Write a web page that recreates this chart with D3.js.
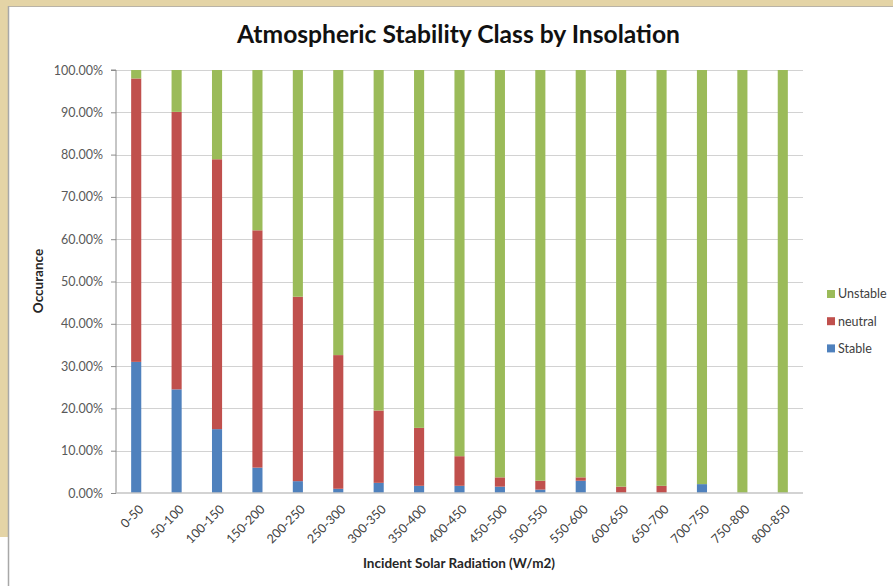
<!DOCTYPE html>
<html>
<head>
<meta charset="utf-8">
<script src="https://cdn.jsdelivr.net/npm/d3@7/dist/d3.min.js"></script>
<style>
  html, body { margin: 0; padding: 0; background: #ffffff; }
  svg { display: block; }
</style>
</head>
<body>
<script>
// Insolation bins (W/m2)
const categories = ["0-50","50-100","100-150","150-200","200-250","250-300","300-350","350-400",
  "400-450","450-500","500-550","550-600","600-650","650-700","700-750","750-800","800-850"];
// Share of hours in each stability class, percent
const stable   = [31.0, 24.5, 15.1, 6.0, 2.8, 1.0, 2.4, 1.7, 1.7, 1.5, 0.8, 2.9, 0, 0, 2.1, 0, 0];
const neutral  = [67.0, 65.6, 63.8, 56.1, 43.6, 31.6, 17.1, 13.7, 7.0, 2.2, 2.1, 0.8, 1.5, 1.7, 0, 0, 0];
const unstable = [2.0, 9.9, 21.1, 37.9, 53.6, 67.4, 80.5, 84.6, 91.3, 96.3, 97.1, 96.3, 98.5, 98.3, 97.9, 100, 100];
const seriesNames = ["Stable", "neutral", "Unstable"];
const yTicks = [0, 10, 20, 30, 40, 50, 60, 70, 80, 90, 100];

const W = 893, H = 586;
const colors = { Stable: "#4f81bd", neutral: "#c0504d", Unstable: "#9bbb59" };
const font = "Lato, 'Open Sans', sans-serif";

const svg = d3.select("body").append("svg").attr("width", W).attr("height", H);

// Page frame: tan strip along the top and left
svg.append("rect").attr("x", 0).attr("y", 0).attr("width", W).attr("height", H).attr("fill", "#ffffff");
svg.append("rect").attr("x", 0).attr("y", 0).attr("width", W).attr("height", 6).attr("fill", "#e4d4a6");
svg.append("rect").attr("x", 0).attr("y", 0).attr("width", 8).attr("height", 537).attr("fill", "#e4d4a6");
svg.append("line").attr("x1", 8).attr("x2", W).attr("y1", 6.5).attr("y2", 6.5).attr("stroke", "#b9b3a6").attr("stroke-width", 1);
svg.append("line").attr("x1", 8.5).attr("x2", 8.5).attr("y1", 6).attr("y2", H).attr("stroke", "#a8a8a8").attr("stroke-width", 1.5);

const plot = { left: 116, right: 803, top: 70, bottom: 493 };

const x = d3.scaleBand().domain(categories).range([plot.left, plot.right]).paddingInner(0.75).paddingOuter(0.375);
const y = d3.scaleLinear().domain([0, 100]).range([plot.bottom, plot.top]);

// Gridlines
svg.append("g").selectAll("line").data(yTicks.filter(t => t > 0)).join("line")
  .attr("x1", plot.left).attr("x2", plot.right)
  .attr("y1", d => Math.round(y(d)) + 0.5).attr("y2", d => Math.round(y(d)) + 0.5)
  .attr("stroke", "#d2d2d2").attr("stroke-width", 1.2);

// Stacked bars
const rows = categories.map((c, i) => ({ cat: c, Stable: stable[i], neutral: neutral[i], Unstable: unstable[i] }));
const stack = d3.stack().keys(seriesNames)(rows);
svg.append("g").selectAll("g").data(stack).join("g")
  .attr("fill", d => colors[d.key])
  .selectAll("rect").data(d => d).join("rect")
  .attr("x", d => x(d.data.cat))
  .attr("width", x.bandwidth())
  .attr("y", d => y(d[1]))
  .attr("height", d => y(d[0]) - y(d[1]));

// Y axis
const yAxis = d3.axisLeft(y).tickValues(yTicks).tickSize(5).tickPadding(8)
  .tickFormat(d => d3.format(".2f")(d) + "%");
const gy = svg.append("g").attr("transform", `translate(${plot.left},0)`).call(yAxis);
gy.select(".domain").attr("stroke", "#8c8c8c").attr("d", `M-5,${plot.top}H0V${plot.bottom}`);
gy.selectAll(".tick line").attr("stroke", "#8c8c8c");
gy.selectAll("text").attr("fill", "#595959").style("font-family", font).style("font-size", "12.5px");

// X axis
const xAxis = d3.axisBottom(x).tickSize(0).tickPadding(0);
const gx = svg.append("g").attr("transform", `translate(0,${plot.bottom})`).call(xAxis);
gx.select(".domain").attr("stroke", "#c4c4c4").attr("stroke-width", 1.5).attr("d", `M${plot.left},0H${plot.right}`);
gx.selectAll("text")
  .attr("fill", "#404040").style("font-family", font).style("font-size", "12.5px")
  .attr("text-anchor", "end")
  .attr("x", 0).attr("y", 0).attr("dy", "0.35em")
  .attr("transform", "translate(5,14) rotate(-45)");

// Title
svg.append("text").attr("x", 458.5).attr("y", 43).attr("text-anchor", "middle")
  .style("font-family", font).style("font-weight", "bold").style("font-size", "24px")
  .attr("fill", "#111111")
  .attr("textLength", 443).attr("lengthAdjust", "spacingAndGlyphs")
  .text("Atmospheric Stability Class by Insolation");

// Axis titles
svg.append("text").attr("x", 459).attr("y", 568).attr("text-anchor", "middle")
  .style("font-family", font).style("font-weight", "bold").style("font-size", "13.5px")
  .attr("fill", "#262626").text("Incident Solar Radiation (W/m2)");
svg.append("text").attr("transform", "translate(43,281) rotate(-90)").attr("text-anchor", "middle")
  .style("font-family", font).style("font-weight", "bold").style("font-size", "13.5px")
  .attr("fill", "#262626").text("Occurance");

// Legend
const legendItems = ["Unstable", "neutral", "Stable"];
const lg = svg.append("g").selectAll("g").data(legendItems).join("g")
  .attr("transform", (d, i) => `translate(827,${294 + i * 27.2})`);
lg.append("rect").attr("x", 0).attr("y", -4).attr("width", 8).attr("height", 8).attr("fill", d => colors[d]);
lg.append("text").attr("x", 11).attr("y", 0).attr("dy", "0.35em")
  .style("font-family", font).style("font-size", "12.5px").attr("fill", "#404040").text(d => d);
</script>
</body>
</html>
